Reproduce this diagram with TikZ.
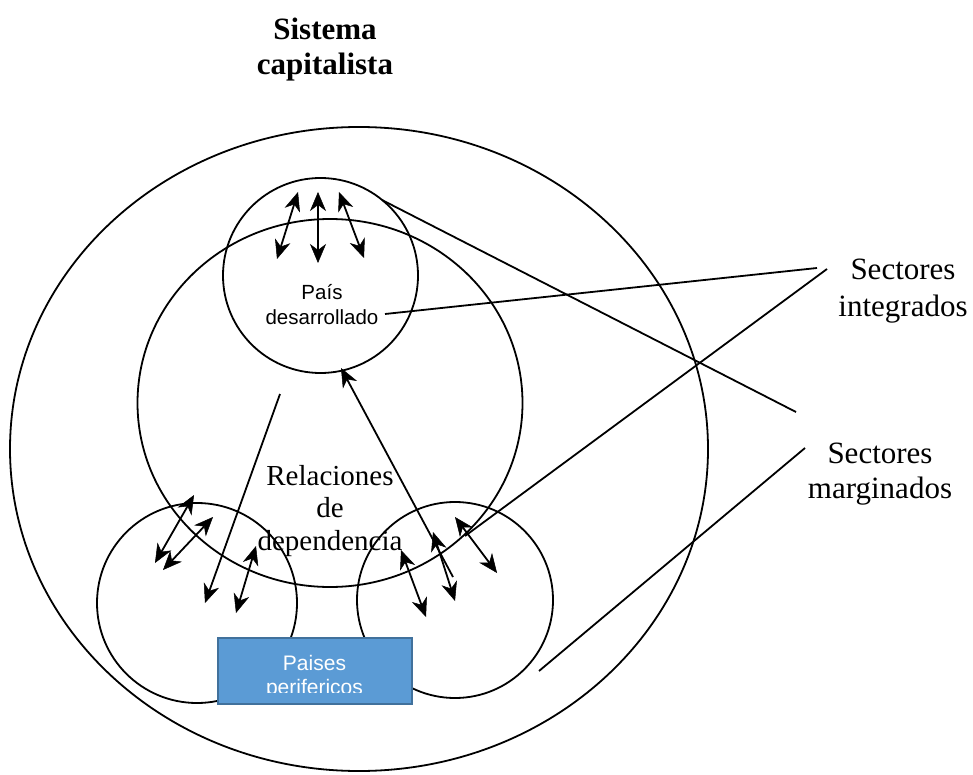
\documentclass[tikz,border=0pt]{standalone}
\usepackage{fontspec}
\setmainfont{Liberation Serif}
\newfontfamily\arialfont{Liberation Sans}
\usetikzlibrary{arrows.meta,shapes.geometric}
\definecolor{boxblue}{HTML}{5B9BD5}
\definecolor{boxedge}{HTML}{41719C}
\tikzset{
  x=1pt,y=-1pt,
  ellring/.style={ellipse,draw=black,line width=1.8pt,inner sep=0pt,outer sep=0pt},
  circring/.style={circle,draw=black,line width=1.8pt,inner sep=0pt,outer sep=0pt},
  headtip/.tip={Stealth[length=19pt,width=16pt,inset=6pt,line width=0.5pt]},
  biarrow/.style={line width=1.8pt,headtip-headtip},
  onearrow/.style={line width=1.8pt,-headtip},
  leader/.style={line width=1.8pt},
  bigtext/.style={font=\fontsize{31pt}{35.5pt}\selectfont,align=center,anchor=base,inner sep=0pt},
  midtext/.style={font=\fontsize{29pt}{32.5pt}\selectfont,align=center,anchor=base,inner sep=0pt},
  smalltext/.style={font=\arialfont\fontsize{20.5pt}{25pt}\selectfont,align=center,anchor=base,inner sep=0pt},
}
\begin{document}
\begin{tikzpicture}
\useasboundingbox (0,0) rectangle (973,775);
% shapes
\node[ellring,minimum width=698pt,minimum height=644pt] (outer) at (359,449) {};
\node[ellring,minimum width=385pt,minimum height=368pt] (rel) at (330,403) {};
\node[circring,minimum size=195pt] (dev) at (320.5,275.5) {};
\node[circring,minimum size=200pt] (bl) at (197,603) {};
\node[circring,minimum size=196pt] (br) at (455,600) {};
% texts (anchor=base is the baseline of the last line)
\node[bigtext,font=\bfseries\fontsize{31pt}{35pt}\selectfont] (title) at (325,75) {Sistema\\capitalista};
\node[smalltext] (devtext) at (322,324) {País\\desarrollado};
\node[midtext] (reltext) at (330,550) {Relaciones\\de\\dependencia};
\node[bigtext,font=\fontsize{31pt}{36pt}\selectfont] (integ) at (903,316) {Sectores\\integrados};
\node[bigtext,font=\fontsize{31pt}{35pt}\selectfont] (margin) at (880,498) {Sectores\\marginados};
% arrow end points
\coordinate (a1s) at (277,259); \coordinate (a1e) at (298,192);
\coordinate (a2s) at (318,263); \coordinate (a2e) at (318,192);
\coordinate (a3s) at (339,192); \coordinate (a3e) at (364,258);
\coordinate (b1s) at (194,495); \coordinate (b1e) at (155,563);
\coordinate (b2s) at (213,517); \coordinate (b2e) at (163,570);
\coordinate (b3s) at (280,394); \coordinate (b3e) at (205,603);
\coordinate (b4s) at (256,546); \coordinate (b4e) at (236,613);
\coordinate (c1s) at (401,550); \coordinate (c1e) at (426,617);
\coordinate (c2s) at (433,532); \coordinate (c2e) at (455,601);
\coordinate (ls) at (453,577); \coordinate (le) at (341,368);
\coordinate (c3s) at (455,517); \coordinate (c3e) at (497,573);
% arrows
\draw[biarrow] (a1s) -- (a1e);
\draw[biarrow] (a2s) -- (a2e);
\draw[biarrow] (a3s) -- (a3e);
\draw[biarrow] (b1s) -- (b1e);
\draw[biarrow] (b2s) -- (b2e);
\draw[onearrow] (b3s) -- (b3e);
\draw[biarrow] (b4s) -- (b4e);
\draw[biarrow] (c1s) -- (c1e);
\draw[biarrow] (c2s) -- (c2e);
\draw[onearrow] (ls) -- (le);
\draw[biarrow] (c3s) -- (c3e);
% leader lines
\coordinate (l1s) at (385,314); \coordinate (l1e) at (817,268);
\coordinate (l2s) at (465,536); \coordinate (l2e) at (827,269);
\coordinate (l3s) at (382,200); \coordinate (l3e) at (796,412);
\coordinate (l4s) at (539,671); \coordinate (l4e) at (805,448);
\draw[leader] (l1s) -- (l1e);
\draw[leader] (l2s) -- (l2e);
\draw[leader] (l3s) -- (l3e);
\draw[leader] (l4s) -- (l4e);
% blue box
\node[draw=boxedge,fill=boxblue,line width=1.5pt,minimum width=194pt,minimum height=66pt,inner sep=0pt] (box) at (315,671) {};
\begin{scope}
\clip (219,640) rectangle (411,692.5);
\node[smalltext,text=white,font=\arialfont\fontsize{21pt}{24pt}\selectfont] (boxtext) at (314.5,694.5) {Paises\\perifericos};
\end{scope}
\end{tikzpicture}
\end{document}
